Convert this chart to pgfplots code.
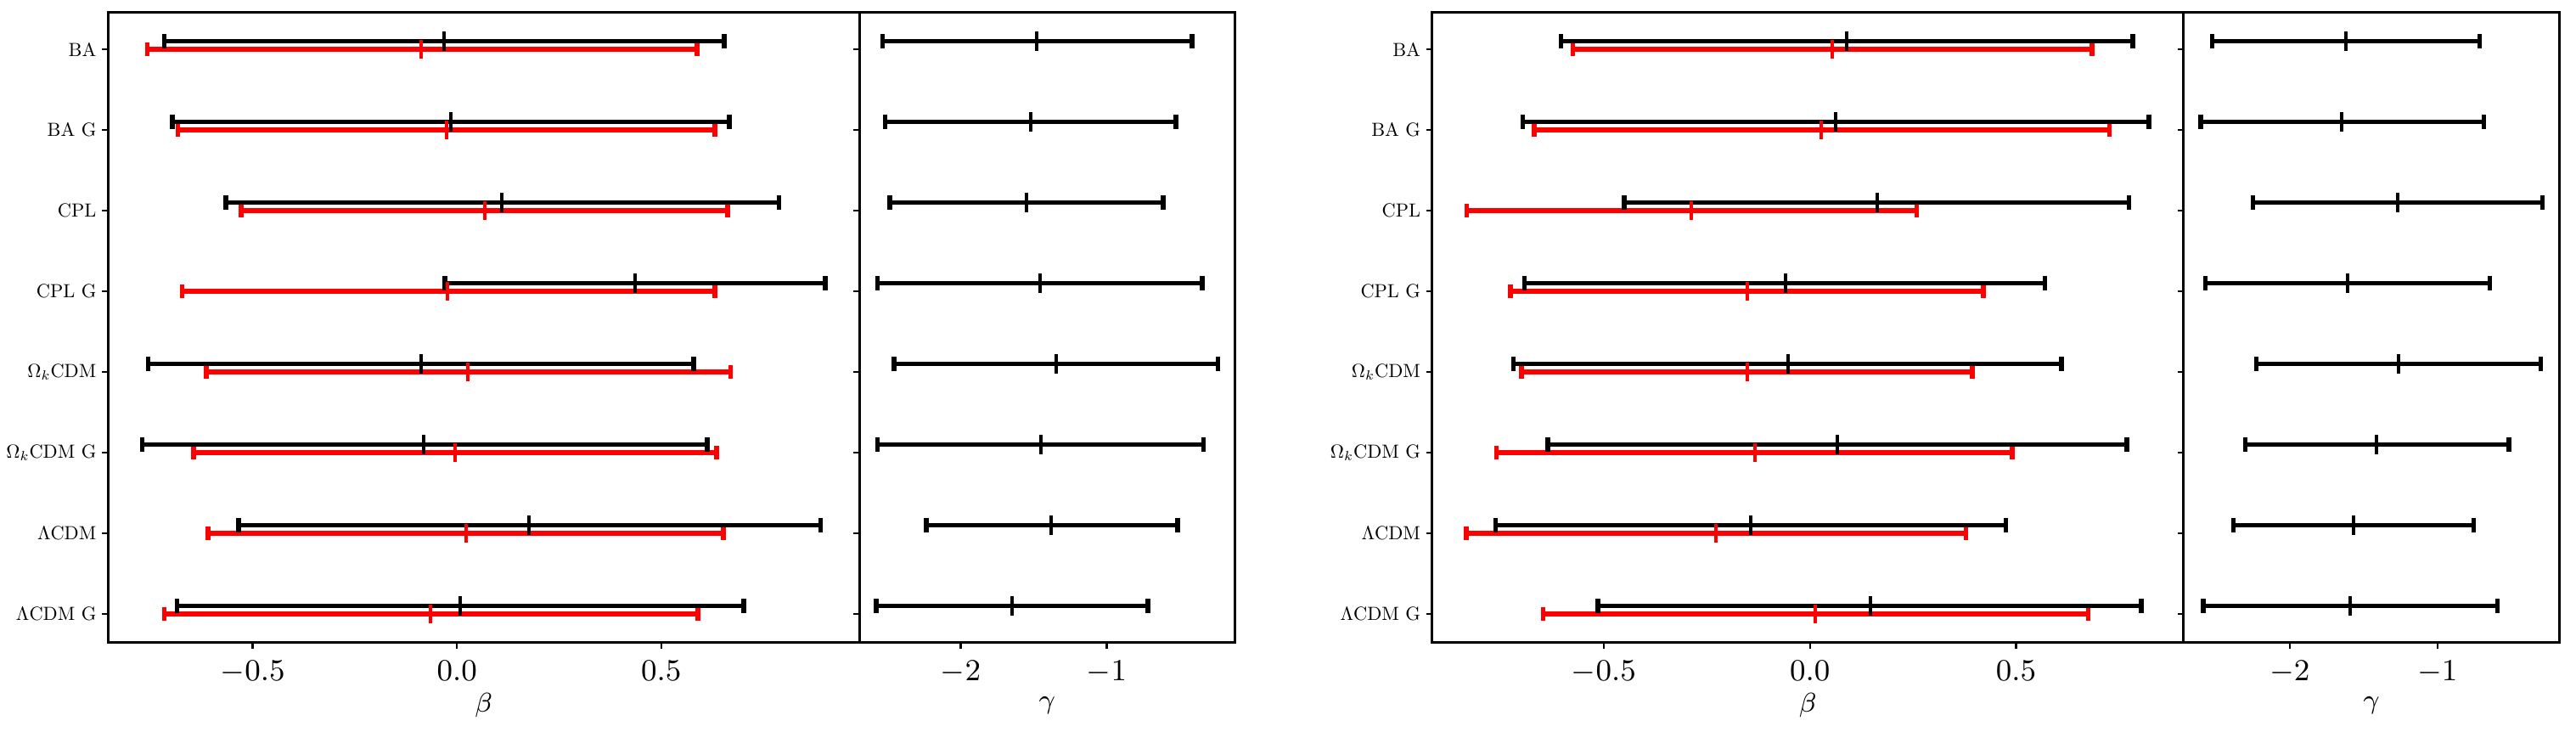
\documentclass[border=0pt]{standalone}
\usepackage{pgfplots}
\pgfplotsset{compat=1.18}
\usepackage{pgfplotstable}

% panel 1 (left beta): y c lo hi
\pgfplotstableread{
y c lo hi
7.1 -0.031 -0.716 0.654
6.1 -0.015 -0.696 0.667
5.1 0.110 -0.566 0.788
4.1 0.436 -0.030 0.901
3.1 -0.088 -0.756 0.579
2.1 -0.081 -0.770 0.613
1.1 0.177 -0.535 0.890
0.1 0.008 -0.685 0.702
}\Ablack
\pgfplotstableread{
y c lo hi
7 -0.087 -0.758 0.587
6 -0.026 -0.683 0.631
5 0.068 -0.528 0.663
4 -0.023 -0.673 0.631
3 0.027 -0.614 0.670
2 -0.005 -0.645 0.636
1 0.022 -0.609 0.652
0 -0.064 -0.716 0.590
}\Ared
\pgfplotstableread{
y c lo hi
7.1 -1.477 -2.535 -0.415
6.1 -1.523 -2.517 -0.525
5.1 -1.549 -2.485 -0.613
4.1 -1.457 -2.571 -0.345
3.1 -1.347 -2.457 -0.238
2.1 -1.453 -2.571 -0.337
1.1 -1.381 -2.236 -0.513
0.1 -1.647 -2.577 -0.717
}\Agamma
% right group
\pgfplotstableread{
y c lo hi
7.1 0.089 -0.604 0.783
6.1 0.063 -0.696 0.822
5.1 0.164 -0.450 0.774
4.1 -0.060 -0.692 0.570
3.1 -0.054 -0.719 0.610
2.1 0.067 -0.636 0.768
1.1 -0.143 -0.762 0.475
0.1 0.146 -0.514 0.804
}\Bblack
\pgfplotstableread{
y c lo hi
7 0.055 -0.575 0.684
6 0.028 -0.669 0.726
5 -0.287 -0.832 0.259
4 -0.151 -0.726 0.421
3 -0.152 -0.699 0.394
2 -0.134 -0.760 0.491
1 -0.227 -0.833 0.378
0 0.013 -0.647 0.675
}\Bred
\pgfplotstableread{
y c lo hi
7.1 -1.621 -2.525 -0.715
6.1 -1.646 -2.603 -0.686
5.1 -1.270 -2.249 -0.289
4.1 -1.607 -2.571 -0.646
3.1 -1.264 -2.226 -0.301
2.1 -1.410 -2.301 -0.517
1.1 -1.567 -2.381 -0.755
0.1 -1.588 -2.586 -0.594
}\Bgamma

\newcommand{\yl}[1]{\scalebox{0.56}{#1}}

\pgfplotsset{
  panel/.style={
    scale only axis, height=185.5pt, anchor=south west,
    ymin=-0.355, ymax=7.455,
    axis line style={line width=0.7pt},
    tick align=outside, tick pos=left,
    major tick length=1.75pt,
    every tick/.style={black, line width=0.6pt},
    ytick={0,1,2,3,4,5,6,7},
    xticklabel style={font=\fontsize{8.7}{10}\selectfont},
    yticklabel style={inner sep=1.5pt},
    xlabel style={font=\fontsize{8}{10}\selectfont, at={(axis description cs:0.5,-0.10)}, anchor=center},
  },
  betapanel/.style={panel, width=221.25pt,
    xtick={-0.5,0,0.5}, xticklabels={$-0.5$,$0.0$,$0.5$},
    yticklabels={\yl{$\Lambda$CDM G},\yl{$\Lambda$CDM},\yl{$\Omega_k$CDM G},\yl{$\Omega_k$CDM},\yl{CPL G},\yl{CPL},\yl{BA G},\yl{BA}},
    xlabel={$\beta$}},
  gammapanel/.style={panel, width=110.7pt,
    xtick={-2,-1}, xticklabels={$-2$,$-1$}, yticklabels={},
    xlabel={$\gamma$}},
  eb/.style={#1, only marks, mark=|, mark size=2.8pt, mark options={line width=1pt, #1},
    error bars/x dir=both, error bars/x explicit,
    error bars/error mark=|,
    error bars/error bar style={line width=1.3pt, #1},
    error bars/error mark options={mark size=2.1pt, line width=1.4pt, #1}},
}

\begin{document}
\begin{tikzpicture}
\path[use as bounding box] (0,0) rectangle (758.5pt,215.5pt);

\begin{axis}[betapanel, at={(31.8pt,26.3pt)}, xmin=-0.854, xmax=0.985]
\addplot[eb=red] table[x=c, y=y, x error plus expr=\thisrow{hi}-\thisrow{c}, x error minus expr=\thisrow{c}-\thisrow{lo}] {\Ared};
\addplot[eb=black] table[x=c, y=y, x error plus expr=\thisrow{hi}-\thisrow{c}, x error minus expr=\thisrow{c}-\thisrow{lo}] {\Ablack};
\end{axis}

\begin{axis}[gammapanel, at={(253pt,26.3pt)}, xmin=-2.695, xmax=-0.120]
\addplot[eb=black] table[x=c, y=y, x error plus expr=\thisrow{hi}-\thisrow{c}, x error minus expr=\thisrow{c}-\thisrow{lo}] {\Agamma};
\end{axis}

\begin{axis}[betapanel, at={(421.7pt,26.3pt)}, xmin=-0.916, xmax=0.906]
\addplot[eb=red] table[x=c, y=y, x error plus expr=\thisrow{hi}-\thisrow{c}, x error minus expr=\thisrow{c}-\thisrow{lo}] {\Bred};
\addplot[eb=black] table[x=c, y=y, x error plus expr=\thisrow{hi}-\thisrow{c}, x error minus expr=\thisrow{c}-\thisrow{lo}] {\Bblack};
\end{axis}

\begin{axis}[gammapanel, at={(642.9pt,26.3pt)}, xmin=-2.719, xmax=-0.175]
\addplot[eb=black] table[x=c, y=y, x error plus expr=\thisrow{hi}-\thisrow{c}, x error minus expr=\thisrow{c}-\thisrow{lo}] {\Bgamma};
\end{axis}
\end{tikzpicture}
\end{document}
